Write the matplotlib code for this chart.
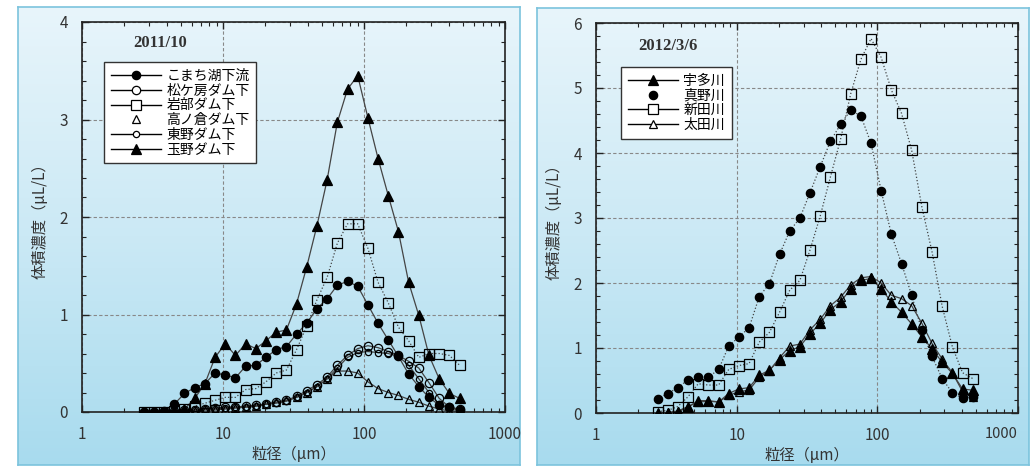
import matplotlib
matplotlib.use("Agg")
import matplotlib.pyplot as plt
from matplotlib.lines import Line2D
from matplotlib.ticker import MultipleLocator, LogLocator, FixedLocator, FixedFormatter, NullFormatter
import numpy as np

plt.rcParams['font.family'] = ['Noto Sans CJK JP', 'DejaVu Sans']

# ── Data ─────────────────────────────────────────────────────────────────────
size_um = [2.74, 3.24, 3.82, 4.51, 5.33, 6.30, 7.44, 8.78, 10.37, 12.25,
           14.47, 17.09, 20.18, 23.83, 28.15, 33.24, 39.26, 46.37, 54.76, 64.67,
           76.38, 90.20, 106.5, 125.8, 148.6, 175.5, 207.3, 244.8, 289.1, 341.4,
           403.2, 476.2]

# 2011/10
komachi = [0.0, 0.0, 0.01, 0.08, 0.19, 0.25, 0.29, 0.40, 0.38, 0.35,
           0.47, 0.48, 0.56, 0.64, 0.67, 0.80, 0.91, 1.06, 1.16, 1.30,
           1.34, 1.29, 1.10, 0.91, 0.74, 0.57, 0.39, 0.26, 0.15, 0.07,
           0.05, 0.02]
matsugabo = [0.0, 0.0, 0.0, 0.01, 0.02, 0.02, 0.03, 0.04, 0.05, 0.05,
             0.06, 0.07, 0.08, 0.10, 0.12, 0.16, 0.22, 0.28, 0.36, 0.48,
             0.58, 0.65, 0.68, 0.66, 0.62, 0.58, 0.52, 0.45, 0.30, 0.14,
             0.05, 0.03]
iwabe = [0.0, 0.0, 0.0, 0.01, 0.03, 0.06, 0.09, 0.12, 0.15, 0.15,
         0.23, 0.24, 0.31, 0.40, 0.43, 0.64, 0.88, 1.15, 1.38, 1.73,
         1.93, 1.93, 1.68, 1.33, 1.12, 0.87, 0.73, 0.56, 0.60, 0.60,
         0.58, 0.48]
takanokura = [0.0, 0.0, 0.0, 0.0, 0.01, 0.01, 0.02, 0.02, 0.03, 0.04,
              0.05, 0.06, 0.08, 0.10, 0.12, 0.15, 0.20, 0.26, 0.34, 0.42,
              0.42, 0.40, 0.31, 0.24, 0.20, 0.17, 0.13, 0.10, 0.06, 0.03,
              0.01, 0.01]
higashino = [0.0, 0.0, 0.0, 0.01, 0.01, 0.02, 0.03, 0.03, 0.04, 0.05,
             0.05, 0.06, 0.08, 0.09, 0.11, 0.15, 0.20, 0.26, 0.34, 0.45,
             0.56, 0.61, 0.62, 0.61, 0.60, 0.57, 0.48, 0.34, 0.20, 0.08,
             0.04, 0.02]
tamano = [0.0, 0.0, 0.0, 0.01, 0.03, 0.14, 0.29, 0.56, 0.70, 0.58,
          0.70, 0.65, 0.73, 0.82, 0.84, 1.11, 1.49, 1.91, 2.38, 2.97,
          3.31, 3.45, 3.02, 2.60, 2.22, 1.85, 1.33, 0.99, 0.58, 0.34,
          0.19, 0.14]

# 2012/3/6
uda = [0.0, 0.0, 0.02, 0.09, 0.19, 0.19, 0.17, 0.30, 0.37, 0.39,
       0.58, 0.66, 0.82, 0.96, 1.02, 1.22, 1.38, 1.59, 1.71, 1.91,
       2.04, 2.07, 1.91, 1.71, 1.55, 1.37, 1.17, 0.99, 0.78, 0.61,
       0.37, 0.35]
mano = [0.22, 0.30, 0.39, 0.51, 0.56, 0.55, 0.67, 1.03, 1.17, 1.31,
        1.79, 1.99, 2.44, 2.80, 3.00, 3.39, 3.79, 4.18, 4.44, 4.66,
        4.57, 4.15, 3.42, 2.75, 2.30, 1.81, 1.27, 0.87, 0.53, 0.31,
        0.23, 0.25]
niida = [0.02, 0.04, 0.10, 0.25, 0.45, 0.43, 0.43, 0.67, 0.73, 0.76,
         1.09, 1.24, 1.55, 1.89, 2.04, 2.51, 3.03, 3.63, 4.21, 4.91,
         5.44, 5.76, 5.47, 4.97, 4.61, 4.04, 3.17, 2.48, 1.64, 1.02,
         0.62, 0.53]
ota = [0.0, 0.01, 0.03, 0.10, 0.17, 0.18, 0.17, 0.27, 0.33, 0.35,
       0.55, 0.65, 0.85, 1.03, 1.06, 1.28, 1.44, 1.65, 1.78, 1.97,
       2.08, 2.10, 2.00, 1.81, 1.76, 1.65, 1.38, 1.07, 0.83, 0.62,
       0.33, 0.24]

# name, values, marker, filled, marker size, line style, line in legend
left_series = [
    ("こまち湖下流", komachi, "o", True, 6, "-", True),
    ("松ケ房ダム下", matsugabo, "o", False, 6, "-", True),
    ("岩部ダム下", iwabe, "s", False, 7, ":", True),
    ("高ノ倉ダム下", takanokura, "^", False, 6, "-", False),
    ("東野ダム下", higashino, "o", False, 4.5, "-", True),
    ("玉野ダム下", tamano, "^", True, 7, "-", True),
]
right_series = [
    ("宇多川", uda, "^", True, 7, "-", True),
    ("真野川", mano, "o", True, 6, ":", False),
    ("新田川", niida, "s", False, 7, ":", True),
    ("太田川", ota, "^", False, 6, "-", True),
]

W, H = 1030, 467
fig = plt.figure(figsize=(W / 100, H / 100), dpi=100)
fig.patch.set_facecolor("white")

def px(x0, y0, x1, y1):
    return [x0 / W, 1 - y1 / H, (x1 - x0) / W, (y1 - y0) / H]

def panel_bg(rect):
    bg = fig.add_axes(rect)
    grad = np.linspace(0, 1, 256).reshape(-1, 1)
    cmap = matplotlib.colors.LinearSegmentedColormap.from_list(
        "bg", ["#e8f5fb", "#cbe9f5", "#a8dbee"])
    bg.imshow(grad, aspect="auto", cmap=cmap, extent=[0, 1, 0, 1])
    bg.set_xticks([])
    bg.set_yticks([])
    for s in bg.spines.values():
        s.set_color("#7cc3dd")
        s.set_linewidth(1.2)
    return bg

panel_bg(px(18, 7, 520, 465))
panel_bg(px(537, 8, 1029, 465))

def draw_panel(rect, series, ymax, title, title_xy, leg_xy):
    ax = fig.add_axes(rect)
    ax.set_facecolor("none")
    handles = []
    for name, vals, mk, filled, ms, ls, leg_line in series:
        ax.plot(size_um, vals, color="#444444", lw=0.9, ls=ls, zorder=2)
        ax.plot(size_um, vals, ls="none", marker=mk, ms=ms,
                mfc="black" if filled else "none", mec="black", mew=0.9, zorder=3)
        handles.append(Line2D([], [], color="black", lw=1.0,
                              ls="-" if leg_line else "none", marker=mk, ms=ms,
                              mfc="black" if filled else "white", mec="black",
                              mew=0.9, label=name))
    ax.set_xscale("log")
    ax.set_xlim(1, 1000)
    ax.set_ylim(0, ymax)
    ax.xaxis.set_major_locator(FixedLocator([1, 10, 100, 1000]))
    ax.xaxis.set_major_formatter(FixedFormatter(["1", "10", "100", "1000"]))
    ax.xaxis.set_minor_locator(LogLocator(base=10, subs=np.arange(2, 10)))
    ax.xaxis.set_minor_formatter(NullFormatter())
    ax.yaxis.set_major_locator(MultipleLocator(1))
    ax.yaxis.set_minor_locator(MultipleLocator(0.2))
    ax.tick_params(which="both", direction="in", top=True, right=True,
                   colors="#222222", labelcolor="#333333")
    ax.tick_params(which="major", length=5, width=1.0, labelsize=11, pad=10)
    ax.tick_params(which="minor", length=3, width=0.8)
    ax.grid(which="major", color="#888888", ls=(0, (3, 2)), lw=0.8)
    for s in ax.spines.values():
        s.set_linewidth(1.2)
        s.set_color("#222222")
    ax.set_xlabel("粒径（μm）", fontsize=11, color="#333333", labelpad=2)
    ax.set_ylabel("体積濃度（μL/L）", fontsize=11, color="#333333", labelpad=8)
    ax.text(title_xy[0], title_xy[1], title, transform=ax.transAxes,
            fontsize=12, color="#333333", family="Liberation Serif",
            fontweight="bold", ha="left", va="center")
    leg = ax.legend(handles=handles, loc="upper left", bbox_to_anchor=leg_xy,
                    fontsize=10, handlelength=3.6, handletextpad=0.4,
                    labelspacing=0.05, borderpad=0.5, fancybox=False,
                    framealpha=1, edgecolor="#333333")
    leg.get_frame().set_linewidth(1.0)
    return ax

draw_panel(px(82, 22, 505, 412), left_series, 4, "2011/10", (0.12, 0.946), (0.035, 0.915))
ax_r = draw_panel(px(596, 23, 1018, 413), right_series, 6, "2012/3/6", (0.10, 0.94), (0.042, 0.905))

# keep the rightmost "1000" inside the figure, as in the reference
fig.canvas.draw()
ax_r.get_xticklabels()[-1].set_horizontalalignment("right")
ax_r.get_xticklabels()[-1].set_x(1000)
ax_r.get_xticklabels()[-1].set_fontsize(10.5)

plt.savefig("out.png", dpi=100)
